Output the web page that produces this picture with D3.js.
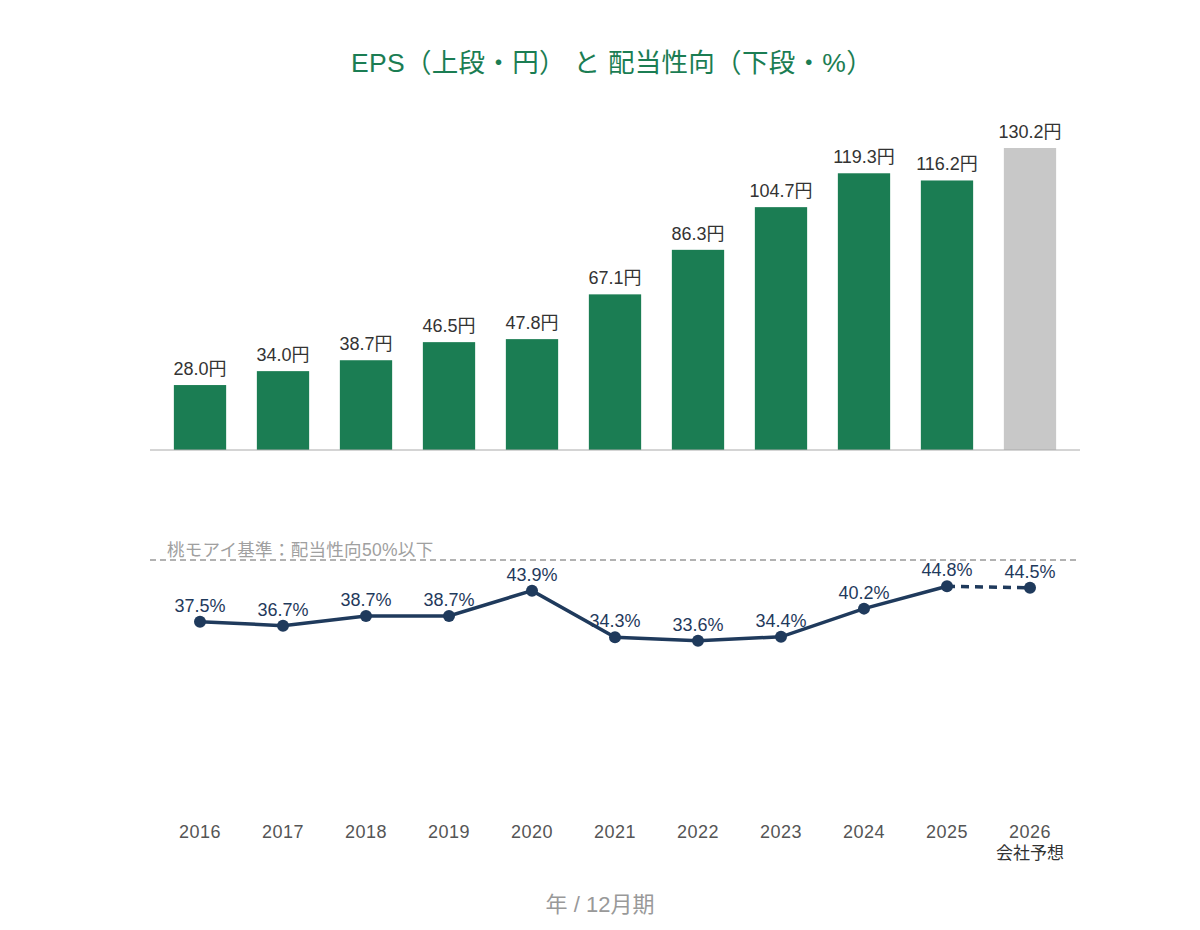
<!DOCTYPE html>
<html>
<head>
<meta charset="utf-8">
<script src="https://cdn.jsdelivr.net/npm/d3@7"></script>
<style>
  body { margin: 0; background: #fff; }
  svg text { font-family: "Liberation Sans", "Noto Sans CJK JP", sans-serif; }
</style>
</head>
<body>
<div id="chart"></div>
<script>
// data
const years    = ["2016", "2017", "2018", "2019", "2020", "2021", "2022", "2023", "2024", "2025", "2026"];
const eps      = [28.0, 34.0, 38.7, 46.5, 47.8, 67.1, 86.3, 104.7, 119.3, 116.2, 130.2];
const payout   = [37.5, 36.7, 38.7, 38.7, 43.9, 34.3, 33.6, 34.4, 40.2, 44.8, 44.5];
const forecast = "2026";
const forecastNote = "会社予想";
const payoutLimit = 50;

const W = 1200, H = 930;
const green = "#1b7d53", grey = "#c8c8c8", navy = "#1f3a5c";

let svg = d3.select("#chart").append("svg")
	.attr("width", W)
	.attr("height", H);

let x = d3.scaleBand().domain(years).range([150, 1080]).paddingInner(0.37).paddingOuter(0.2875);
let yBar = d3.scaleLinear().domain([0, 130.2]).range([450, 148]);
let yLine = d3.scaleLinear().domain([0, 50]).range([804, 561]);
let cx = (d) => x(d) + x.bandwidth() / 2;

// title
svg.append("text")
	.attr("x", 612).attr("y", 72)
	.attr("text-anchor", "middle")
	.attr("fill", green)
	.attr("font-size", 26.5)
	.attr("letter-spacing", 0.3)
	.text("EPS（上段・円） と 配当性向（下段・%）");

// bars
svg.append("g")
	.selectAll("rect")
	.data(years).enter()
	.append("rect")
		.attr("x", (d) => x(d))
		.attr("y", (d, i) => yBar(eps[i]))
		.attr("width", x.bandwidth())
		.attr("height", (d, i) => yBar(0) - yBar(eps[i]))
		.attr("fill", (d) => d === forecast ? grey : green);

svg.append("g")
	.selectAll("text")
	.data(years).enter()
	.append("text")
		.attr("x", cx)
		.attr("y", (d, i) => yBar(eps[i]) - 10)
		.attr("text-anchor", "middle")
		.attr("font-size", 18)
		.attr("fill", "#333")
		.text((d, i) => eps[i].toFixed(1) + "円");

svg.append("line")
	.attr("x1", 150).attr("x2", 1080)
	.attr("y1", yBar(0)).attr("y2", yBar(0))
	.attr("stroke", "#aaa").attr("stroke-width", 1);

// payout limit
svg.append("line")
	.attr("x1", 150).attr("x2", 1080)
	.attr("y1", yLine(payoutLimit) - 1).attr("y2", yLine(payoutLimit) - 1)
	.attr("stroke", "#999").attr("stroke-width", 1.5)
	.attr("stroke-dasharray", "6,4");

svg.append("text")
	.attr("x", 167).attr("y", yLine(payoutLimit) - 5)
	.attr("font-size", 17.5)
	.attr("letter-spacing", 0.3)
	.attr("fill", "#a0a0a0")
	.text("桃モアイ基準：配当性向" + payoutLimit + "%以下");

// payout line
let pts = years.map((d, i) => [cx(d), yLine(payout[i])]);
let line = d3.line();
let fi = years.indexOf(forecast);

svg.append("path")
	.attr("d", line(pts.slice(0, fi)))
	.attr("fill", "none")
	.attr("stroke", navy)
	.attr("stroke-width", 3.5);

svg.append("path")
	.attr("d", line(pts.slice(fi - 1)))
	.attr("fill", "none")
	.attr("stroke", navy)
	.attr("stroke-width", 3.5)
	.attr("stroke-dasharray", "8,6");

svg.append("g")
	.selectAll("circle")
	.data(pts).enter()
	.append("circle")
		.attr("cx", (p) => p[0])
		.attr("cy", (p) => p[1])
		.attr("r", 6)
		.attr("fill", navy);

svg.append("g")
	.selectAll("text")
	.data(years).enter()
	.append("text")
		.attr("x", cx)
		.attr("y", (d, i) => yLine(payout[i]) - 10)
		.attr("text-anchor", "middle")
		.attr("font-size", 18)
		.attr("fill", navy)
		.text((d, i) => payout[i].toFixed(1) + "%");

// x axis
let xAxis = svg.append("g")
	.attr("transform", "translate(0,838)")
	.call(d3.axisBottom(x).tickSize(0).tickPadding(0));
xAxis.select(".domain").remove();
xAxis.selectAll(".tick text")
	.attr("dy", null)
	.attr("font-size", 18)
	.attr("letter-spacing", 0.5)
	.attr("fill", "#555");

svg.append("text")
	.attr("x", cx(forecast)).attr("y", 859)
	.attr("text-anchor", "middle")
	.attr("font-size", 17)
	.attr("fill", "#333")
	.text(forecastNote);

svg.append("text")
	.attr("x", 600).attr("y", 912)
	.attr("text-anchor", "middle")
	.attr("font-size", 22)
	.attr("fill", "#999")
	.text("年 / 12月期");
</script>
</body>
</html>
